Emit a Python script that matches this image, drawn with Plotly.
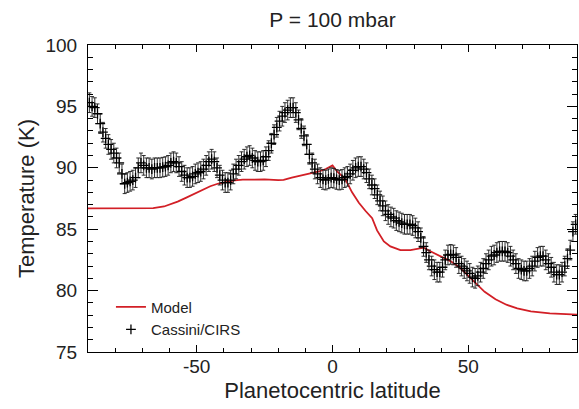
import plotly.graph_objects as go

# Cassini/CIRS latitudes (1-degree bins) and temperatures (K)
cirs_lat = [-89.5 + i for i in range(180)]
cirs_temp = [
    95.3, 95.0, 94.9, 94.4, 93.6, 92.9, 92.4, 91.9, 91.5, 91.2,
    90.8, 90.4, 89.5, 88.7, 88.8, 88.9, 89.0, 89.2, 90.0, 90.4,
    90.2, 90.0, 90.0, 89.9, 90.0, 90.0, 90.0, 90.05, 90.1, 90.2,
    90.4, 90.5, 90.4, 90.1, 89.7, 89.4, 89.2, 89.2, 89.3, 89.5,
    89.6, 89.7, 89.9, 90.2, 90.5, 90.7, 90.5, 90.0, 89.4, 89.0,
    88.8, 88.8, 89.0, 89.5, 89.9, 90.2, 90.5, 90.7, 90.9, 91.0,
    90.8, 90.6, 90.5, 90.5, 90.6, 90.9, 91.4, 92.0, 92.7, 93.3,
    93.8, 94.2, 94.5, 94.7, 94.9, 94.9, 94.5, 93.9, 93.2, 92.6,
    91.9, 91.1, 90.4, 89.9, 89.5, 89.2, 89.05, 89.0, 89.1, 89.2,
    89.15, 89.05, 89.0, 89.05, 89.2, 89.3, 89.5, 89.8, 90.0, 90.1,
    90.1, 89.9, 89.6, 89.1, 88.6, 88.3, 87.8, 87.3, 86.9, 86.5,
    86.2, 86.0, 85.9, 85.7, 85.6, 85.5, 85.4, 85.4, 85.4, 85.3,
    85.1, 84.8, 84.3, 83.6, 83.1, 82.5, 82.0, 81.7, 81.5, 81.5,
    81.9, 82.5, 82.9, 82.95, 82.9, 82.7, 82.2, 82.0, 81.8, 81.6,
    81.4, 81.1, 81.0, 81.2, 81.5, 81.8, 82.2, 82.5, 82.8, 82.9,
    83.1, 83.2, 83.2, 83.2, 83.1, 82.8, 82.5, 82.2, 81.8, 81.7,
    81.6, 81.6, 81.8, 82.0, 82.4, 82.7, 82.8, 82.8, 82.5, 82.2,
    81.9, 81.5, 81.3, 81.3, 81.5, 82.0, 82.6, 83.3, 84.8, 85.4,
]
cirs_err = [0.8] * len(cirs_lat)

# Model profile
model_lat = [-90, -80, -70, -66, -62, -60, -57, -54, -51, -48, -45, -42, -39, -36,
             -33, -30, -25, -20, -18, -15, -10, -5, -2.5, -1, 0, 1.7, 4.8, 7.2,
             9.7, 12.1, 14.6, 16.4, 18.9, 21.3, 25, 28.7, 31, 33.6, 36, 39.7,
             43.4, 47, 50, 53, 56, 60, 64, 68, 73, 80, 85, 90]
model_temp = [86.7, 86.7, 86.7, 86.72, 86.85, 87.0, 87.25, 87.55, 87.85, 88.2,
              88.5, 88.72, 88.88, 88.98, 89.03, 89.05, 89.05, 89.0, 89.02, 89.2,
              89.45, 89.7, 89.9, 90.05, 90.2, 89.7, 89.05, 88.0, 87.15, 86.5,
              85.9, 84.9, 84.0, 83.6, 83.3, 83.3, 83.4, 83.5, 83.2, 82.8,
              82.4, 81.85, 81.2, 80.5, 79.9, 79.3, 78.85, 78.55, 78.3, 78.15,
              78.1, 78.05]

x_ticks = [-50, 0, 50]
x_ticktext = ["-50", "0", "50"]
y_ticks = [75, 80, 85, 90, 95, 100]
x_range = [-90, 90]
y_range = [75, 100]

font_family = "Liberation Sans, Arial, Helvetica, sans-serif"
text_color = "#222222"

fig = go.Figure()
fig.add_trace(go.Scatter(
    x=model_lat, y=model_temp, mode="lines", name="Model",
    line=dict(color="#d21f26", width=1.8),
    legendgroup="a",
))
fig.add_trace(go.Scatter(
    x=cirs_lat, y=cirs_temp, mode="markers", name="Cassini/CIRS",
    marker=dict(symbol="cross-thin", size=7, line=dict(color="black", width=1.3)),
    error_y=dict(type="data", array=cirs_err, color="#1a1a1a", thickness=0.9, width=2),
    legendgroup="b",
))

tickfont = dict(size=19, color=text_color, family=font_family)

fig.update_layout(
    width=579, height=409,
    margin=dict(l=88, r=2, t=45, b=57, autoexpand=False),
    paper_bgcolor="white", plot_bgcolor="white",
    xaxis=dict(
        range=x_range, tickvals=x_ticks, ticktext=x_ticktext, ticklen=7,
        ticks="inside", tickcolor="black", tickwidth=1,
        showline=True, linecolor="black", linewidth=1, mirror="ticks",
        showgrid=False, zeroline=False, tickfont=tickfont,
        ticklabelstandoff=-3, automargin=False,
        minor=dict(dtick=10, ticklen=4, ticks="inside", tickcolor="black", showgrid=False),
        title=dict(text="Planetocentric latitude",
                   font=dict(size=22, color=text_color, family=font_family), standoff=6),
    ),
    yaxis=dict(
        range=y_range, tickvals=y_ticks, ticklen=10,
        ticks="inside", tickcolor="black", tickwidth=1,
        showline=True, linecolor="black", linewidth=1, mirror="ticks",
        showgrid=False, zeroline=False, tickfont=tickfont,
        ticklabelstandoff=6, automargin=False,
        minor=dict(dtick=1, ticklen=5, ticks="inside", tickcolor="black", showgrid=False),
        title=dict(text="Temperature (K)",
                   font=dict(size=22, color=text_color, family=font_family), standoff=4),
    ),
    title=dict(text="P = 100 mbar", x=(88 + 577) / 2 / 579, xanchor="center",
               y=1 - 20 / 409, yanchor="middle",
               font=dict(size=21, color=text_color, family=font_family)),
    showlegend=True,
    legend=dict(
        x=(111 - 88) / 490, xanchor="left", y=0.2, yanchor="top",
        bgcolor="rgba(0,0,0,0)", borderwidth=0,
        font=dict(size=15, color=text_color, family=font_family),
        traceorder="grouped", tracegroupgap=0,
    ),
    font=dict(family=font_family),
)

fig.write_html("out.html", config={"displayModeBar": False},
               post_script="document.body.style.margin='0';")
